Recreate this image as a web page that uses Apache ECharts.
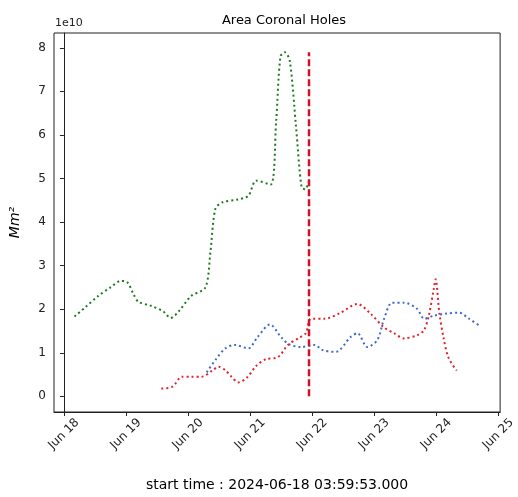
<!DOCTYPE html>
<html>
<head>
<meta charset="utf-8">
<script src="https://cdn.jsdelivr.net/npm/echarts@6/dist/echarts.min.js"></script>
<style>
  html, body { margin: 0; padding: 0; background: #fff; }
  #chart { width: 518px; height: 497px; }
</style>
</head>
<body>
<div id="chart"></div>
<script>
// x values are days after 2024-06-18 00:00, y values in units of 1e10 Mm^2
var xTicks      = [0, 1, 2, 3, 4, 5, 6, 7];
var xTickLabels = ["Jun 18", "Jun 19", "Jun 20", "Jun 21", "Jun 22", "Jun 23", "Jun 24", "Jun 25"];
var yTicks      = [0, 1, 2, 3, 4, 5, 6, 7, 8];

var greenDays = [0.17, 0.35, 0.55, 0.75, 0.92, 1.02, 1.12, 1.2, 1.4, 1.6, 1.72, 1.85, 2.05, 2.28, 2.36, 2.44,
                 2.55, 2.8, 2.97, 3.1, 3.33, 3.42, 3.49, 3.56, 3.64, 3.74, 3.83, 3.89, 3.95];
var greenArea = [1.83, 2.05, 2.3, 2.5, 2.65, 2.62, 2.35, 2.17, 2.08, 1.95, 1.8, 1.95, 2.3, 2.5, 3.3, 4.3,
                 4.45, 4.52, 4.6, 4.95, 4.86, 6.3, 7.8, 7.9, 7.7, 6.2, 4.8, 4.75, 4.95];

var redDays = [1.57, 1.75, 1.9, 2.05, 2.22, 2.4, 2.49, 2.6, 2.7, 2.81, 2.95, 3.1, 3.25, 3.45, 3.61, 3.8, 3.9,
               3.98, 4.2, 4.46, 4.73, 4.94, 5.16, 5.32, 5.48, 5.69, 5.8, 5.88, 5.96, 5.99, 6.05, 6.12, 6.2, 6.33];
var redArea = [0.18, 0.22, 0.45, 0.45, 0.45, 0.6, 0.68, 0.6, 0.45, 0.32, 0.43, 0.7, 0.85, 0.9, 1.18, 1.35, 1.45,
               1.78, 1.78, 1.92, 2.12, 1.9, 1.58, 1.45, 1.33, 1.4, 1.51, 1.85, 2.46, 2.69, 1.92, 1.33, 0.88, 0.59];

var blueDays = [2.3, 2.45, 2.6, 2.75, 2.97, 3.12, 3.32, 3.5, 3.62, 3.82, 4.04, 4.17, 4.38, 4.62, 4.73, 4.89,
                5.05, 5.16, 5.29, 5.48, 5.69, 5.81, 5.96, 6.17, 6.37, 6.53, 6.69];
var blueArea = [0.55, 0.85, 1.1, 1.18, 1.1, 1.36, 1.65, 1.36, 1.2, 1.13, 1.18, 1.06, 1.02, 1.36, 1.45, 1.13,
                1.29, 1.78, 2.15, 2.15, 2.01, 1.78, 1.85, 1.9, 1.92, 1.78, 1.63];

var vlineDay   = 3.95;
var vlineRange = [0, 7.9];

function pairs(xs, ys) {
	var out = [];
	for (var i = 0; i < xs.length; i++) out.push([xs[i], ys[i]]);
	return out;
}

var font = "DejaVu Sans";
var chart = echarts.init(document.getElementById("chart"), null, { renderer: "canvas" });

function dotted(name, color, xs, ys) {
	return {
		name: name,
		type: "line",
		data: pairs(xs, ys),
		showSymbol: false,
		smooth: 0.3,
		lineStyle: { color: color, width: 2, type: [2, 3] },
		z: 3
	};
}

chart.setOption({
	animation: false,
	backgroundColor: "#fff",
	title: {
		text: "Area Coronal Holes",
		left: 279, top: 9, textAlign: "center",
		textStyle: { fontFamily: font, fontSize: 13, fontWeight: "normal", color: "#000" }
	},
	graphic: [{
		type: "text", left: 55, top: 18,
		style: { text: "1e10", font: "11px " + font, fill: "#222" }
	}],
	grid: {
		left: 54, right: 14, top: 33, bottom: 79,
		show: true, borderColor: "#222", borderWidth: 1
	},
	xAxis: {
		type: "value",
		min: -0.16, max: 7.03,
		name: "start time : 2024-06-18 03:59:53.000",
		nameLocation: "middle", nameGap: 66,
		nameTextStyle: { fontFamily: font, fontSize: 14, color: "#000" },
		splitLine: { show: false },
		axisLine: { onZero: false, lineStyle: { color: "#222", width: 1 } },
		axisTick: { customValues: xTicks, length: 4, lineStyle: { color: "#222" } },
		axisLabel: {
			customValues: xTicks,
			rotate: 45, margin: 22, align: "center", verticalAlign: "middle",
			fontFamily: font, fontSize: 12, color: "#222",
			formatter: function(v) { return xTickLabels[xTicks.indexOf(Math.round(v))]; }
		}
	},
	yAxis: {
		type: "value",
		min: -0.36, max: 8.34,
		name: "Mm²",
		nameLocation: "middle", nameGap: 32, nameRotate: 90,
		nameTextStyle: { fontFamily: font, fontSize: 14, fontStyle: "italic", color: "#000" },
		splitLine: { show: false },
		axisLine: { show: true, lineStyle: { color: "#222", width: 1 } },
		axisTick: { show: true, customValues: yTicks, length: 4, lineStyle: { color: "#222" } },
		axisLabel: { customValues: yTicks, margin: 8, fontFamily: font, fontSize: 12, color: "#222" }
	},
	series: [
		dotted("green", "#1f7a1f", greenDays, greenArea),
		dotted("blue", "#4169cc", blueDays, blueArea),
		dotted("red", "#e0202a", redDays, redArea),
		{
			name: "start",
			type: "line",
			data: [[vlineDay, vlineRange[0]], [vlineDay, vlineRange[1]]],
			showSymbol: false,
			lineStyle: { color: "#d41028", width: 2.5, type: [7, 3] },
			z: 4
		}
	]
});
</script>
</body>
</html>
